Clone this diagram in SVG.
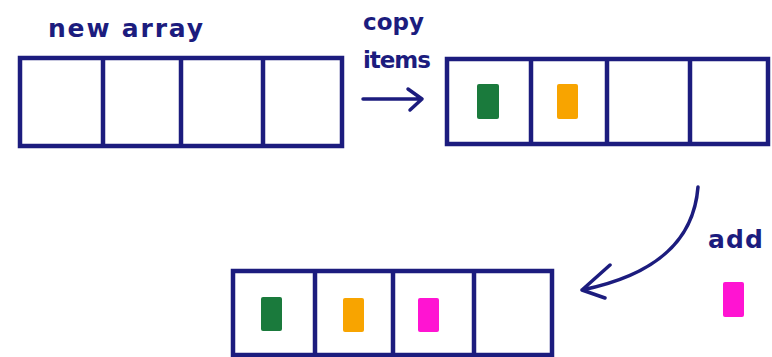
<svg xmlns="http://www.w3.org/2000/svg" width="772" height="357" viewBox="0 0 772 357">
<style>
.cell{fill:#fff;stroke:#1c1c7e;stroke-width:4.5;stroke-linejoin:miter}
.div{stroke:#1c1c7e;stroke-width:4.5}
.lbl{font-family:"DejaVu Sans",sans-serif;font-size:25px;fill:#1c1c7e;font-weight:bold}
.sm{font-size:23px}
.con{fill:none;stroke:#1c1c7e;stroke-width:3.5;stroke-linecap:round;stroke-linejoin:round}
.g{fill:#1a7a3c}.o{fill:#f8a400}.p{fill:#ff14d2}
</style>
<rect width="772" height="357" fill="#fff"/>
<g id="label-new-array"><text class="lbl" x="48" y="37" textLength="155" lengthAdjust="spacing">new array</text></g>
<g id="array-new">
<rect class="cell" x="20" y="58" width="322" height="88"/>
<line class="div" x1="103" y1="58" x2="103" y2="146"/>
<line class="div" x1="181" y1="58" x2="181" y2="146"/>
<line class="div" x1="263" y1="58" x2="263" y2="146"/>
</g>
<g id="label-copy-items">
<text class="lbl sm" x="363" y="30">copy</text>
<text class="lbl sm" x="363" y="68" textLength="68" lengthAdjust="spacing">items</text>
</g>
<g id="array-copied">
<rect class="cell" x="447" y="59" width="321" height="85"/>
<line class="div" x1="531" y1="59" x2="531" y2="144"/>
<line class="div" x1="607" y1="59" x2="607" y2="144"/>
<line class="div" x1="690" y1="59" x2="690" y2="144"/>
<rect class="g" x="477" y="84" width="22" height="35" rx="2"/>
<rect class="o" x="557" y="84" width="21" height="35" rx="2"/>
</g>
<g id="label-add"><text class="lbl" x="708" y="248" textLength="55" lengthAdjust="spacing">add</text></g>
<g id="item-new"><rect class="p" x="723" y="282" width="21" height="35" rx="2"/></g>
<g id="array-result">
<rect class="cell" x="233" y="271" width="319" height="84"/>
<line class="div" x1="315" y1="271" x2="315" y2="355"/>
<line class="div" x1="393" y1="271" x2="393" y2="355"/>
<line class="div" x1="474" y1="271" x2="474" y2="355"/>
<rect class="g" x="261" y="297" width="21" height="34" rx="2"/>
<rect class="o" x="343" y="298" width="21" height="34" rx="2"/>
<rect class="p" x="418" y="298" width="21" height="34" rx="2"/>
</g>
<g id="connectors">
<path class="con" d="M363,99 L422,99 M408,89 L422,99 L410,110"/>
<path class="con" d="M698,187 C694,238 660,274 582,290 M610,265 L582,290 L605,298"/>
</g>
</svg>
